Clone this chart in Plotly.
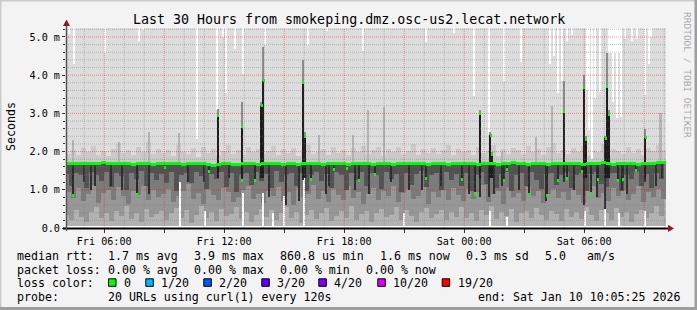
import plotly.graph_objects as go
import pandas as pd

# ---------------- data ----------------
T_START = "2026-01-09 04:05:25"
T_END = "2026-01-10 10:05:25"
STEP = "15min"
MIN_PING_MS = 0.045

median_ms = [
    1.68, 1.69, 1.68, 1.70, 1.69, 1.68, 1.70, 1.71, 1.69, 1.68, 1.70, 1.69, 1.68, 1.67, 1.69, 1.70, 1.68, 1.66, 1.68, 1.69,
    1.70, 1.68, 1.69, 1.67, 1.68, 1.70, 1.69, 1.68, 1.66, 1.64, 1.67, 1.68, 1.69, 1.66, 1.65, 1.68, 1.69, 1.70, 1.67, 1.68,
    1.69, 1.70, 1.68, 1.66, 1.69, 1.68, 1.67, 1.69, 1.70, 1.68, 1.68, 1.67, 1.69, 1.70, 1.68, 1.69, 1.67, 1.68, 1.70, 1.69,
    1.68, 1.66, 1.69, 1.70, 1.68, 1.67, 1.69, 1.68, 1.70, 1.69, 1.68, 1.70, 1.67, 1.68, 1.69, 1.68, 1.66, 1.69, 1.70, 1.68,
    1.69, 1.68, 1.67, 1.70, 1.69, 1.68, 1.66, 1.69, 1.70, 1.71, 1.68, 1.69, 1.67, 1.70, 1.68, 1.69, 1.67, 1.68, 1.70, 1.69,
    1.68, 1.70, 1.69, 1.67, 1.68, 1.69, 1.70, 1.72, 1.68, 1.67, 1.69, 1.70, 1.68, 1.69, 1.66, 1.68, 1.70, 1.69, 1.71, 1.72,
]
dark_floor_ms = [
    1.42, 1.10, 1.45, 1.38, 1.05, 1.47, 1.40, 1.23, 1.46, 1.08, 1.44, 1.36, 1.00, 1.43, 1.29, 1.48, 1.11, 1.45, 1.26, 1.41,
    1.17, 1.46, 0.98, 1.40, 1.44, 1.19, 1.47, 1.35, 1.02, 1.42, 1.28, 1.46, 1.07, 1.43, 0.95, 1.40, 1.45, 1.13, 1.47, 1.24,
    1.41, 1.06, 1.48, 1.21, 1.39, 1.45, 1.10, 1.44, 0.97, 1.40, 1.47, 1.24, 1.42, 1.06, 1.46, 1.38, 0.99, 1.43, 1.25, 1.47,
    1.09, 1.44, 1.40, 1.03, 1.46, 1.27, 1.42, 0.94, 1.45, 1.13, 1.41, 1.48, 1.07, 1.39, 1.44, 1.00, 1.46, 1.26, 1.42, 1.10,
    1.45, 0.97, 1.40, 1.47, 1.14, 1.43, 1.05, 1.41, 1.46, 0.96, 1.38, 1.44, 1.09, 1.47, 1.26, 1.01, 1.42, 1.45, 1.12, 1.40,
    1.46, 1.04, 1.39, 1.44, 0.98, 1.41, 1.47, 1.15, 1.08, 1.43, 1.45, 0.96, 1.40, 1.27, 1.46, 1.10, 1.42, 1.05, 1.44, 1.28,
]
mid_floor_ms = [
    0.95, 0.78, 1.05, 0.70, 0.88, 1.12, 0.65, 0.92, 1.00, 0.74, 1.08, 0.83, 0.62, 0.97, 0.86, 1.10, 0.72, 0.99, 0.80, 0.90,
    1.03, 0.68, 0.85, 0.96, 1.14, 0.76, 0.91, 0.64, 1.02, 0.87, 0.73, 1.06, 0.94, 0.69, 0.82, 1.00, 1.11, 0.77, 0.89, 0.66,
    0.98, 0.84, 1.07, 0.71, 0.93, 0.60, 1.04, 0.81, 0.90, 1.13, 0.75, 0.96, 0.67, 1.01, 0.86, 0.72, 1.09, 0.79, 0.94, 0.63,
    0.88, 1.05, 0.74, 0.97, 0.83, 1.10, 0.69, 0.92, 1.02, 0.77, 0.85, 1.08, 0.62, 0.95, 0.80, 0.99, 0.73, 1.06, 0.87, 0.70,
    1.01, 0.76, 0.93, 1.12, 0.68, 0.89, 0.98, 0.64, 1.04, 0.82, 0.91, 0.71, 1.07, 0.85, 0.97, 0.66, 0.90, 1.03, 0.78, 0.94,
    0.72, 1.00, 0.86, 0.65, 0.96, 1.09, 0.79, 0.92, 0.70, 1.05, 0.84, 0.99, 0.74, 0.88, 1.11, 0.67, 0.93, 0.81, 1.02, 0.76,
]
light_floor_ms = [
    0.35, 0.22, 0.48, 0.30, 0.15, 0.42, 0.55, 0.26, 0.38, 0.19, 0.45, 0.32, 0.58, 0.24, 0.40, 0.17, 0.50, 0.28, 0.36, 0.44,
    0.21, 0.39, 0.52, 0.27, 0.46, 0.14, 0.33, 0.57, 0.25, 0.41, 0.18, 0.49, 0.31, 0.37, 0.54, 0.23, 0.43, 0.16, 0.34, 0.51,
    0.29, 0.47, 0.20, 0.38, 0.56, 0.26, 0.42, 0.13, 0.35, 0.48, 0.24, 0.40, 0.53, 0.19, 0.31, 0.45, 0.27, 0.58, 0.22, 0.36,
    0.44, 0.17, 0.39, 0.50, 0.28, 0.34, 0.55, 0.21, 0.46, 0.32, 0.15, 0.41, 0.52, 0.25, 0.37, 0.48, 0.20, 0.43, 0.30, 0.54,
    0.26, 0.40, 0.18, 0.47, 0.35, 0.57, 0.23, 0.42, 0.31, 0.49, 0.16, 0.38, 0.45, 0.27, 0.53, 0.34, 0.21, 0.44, 0.36, 0.19,
    0.50, 0.29, 0.41, 0.24, 0.55, 0.33, 0.18, 0.46, 0.39, 0.22, 0.52, 0.30, 0.43, 0.17, 0.37, 0.48, 0.26, 0.40, 0.58, 0.32,
]
upper_smoke_ms = [
    1.95, 2.05, 1.90, 2.10, 1.98, 2.15, 1.92, 2.02, 1.88, 2.08, 2.20, 1.96, 2.04, 1.91, 2.12, 1.99, 2.25, 1.93, 2.07, 1.97,
    2.03, 1.89, 2.18, 2.00, 1.94, 2.09, 1.87, 2.13, 1.96, 2.06, 1.92, 2.01, 2.16, 1.95, 2.04, 1.90, 2.11, 1.98, 2.07, 1.93,
    2.02, 2.14, 1.91, 2.06, 1.97, 2.10, 1.89, 2.03, 2.17, 1.94, 2.00, 2.08, 1.92, 2.12, 1.96, 2.05, 1.90, 2.09, 1.99, 2.15,
    1.93, 2.04, 2.11, 1.88, 2.07, 1.98, 2.13, 1.95, 2.02, 2.19, 1.91, 2.06, 1.97, 2.10, 1.94, 2.03, 2.16, 1.90, 2.08, 1.99,
    2.05, 1.92, 2.12, 1.97, 2.01, 2.18, 1.89, 2.07, 1.95, 2.10, 2.03, 1.93, 2.14, 1.98, 2.06, 1.91, 2.11, 2.22, 1.96, 2.04,
    1.94, 2.09, 2.00, 2.15, 1.92, 2.05, 1.98, 2.20, 1.90, 2.08, 2.02, 1.95, 2.13, 1.97, 2.06, 1.91, 2.10, 2.01, 2.17, 2.05,
]

# narrow median dips (median drops for one step)
dip_times = ["2026-01-09 04:26", "2026-01-09 07:38", "2026-01-09 09:02", "2026-01-09 11:14", "2026-01-09 12:53",
             "2026-01-09 13:32", "2026-01-09 16:20", "2026-01-09 17:29", "2026-01-09 18:08", "2026-01-09 18:44",
             "2026-01-09 19:32", "2026-01-09 22:05", "2026-01-09 23:53", "2026-01-10 00:32", "2026-01-10 01:59",
             "2026-01-10 02:08", "2026-01-10 03:14", "2026-01-10 04:08", "2026-01-10 04:41", "2026-01-10 05:08",
             "2026-01-10 05:53", "2026-01-10 06:20", "2026-01-10 06:41", "2026-01-10 07:41", "2026-01-10 07:56",
             "2026-01-10 08:35"]
dip_ms = [0.86, 0.88, 1.58, 1.47, 1.25, 1.25, 1.27, 1.53, 1.56, 1.25, 1.41, 1.30, 1.27, 0.89, 1.25,
          1.53, 0.88, 0.85, 1.25, 1.30, 1.47, 0.90, 1.27, 1.25, 1.28, 1.50]

# narrow median spikes
spike_times = ["2026-01-09 11:42", "2026-01-09 12:53", "2026-01-09 13:52", "2026-01-09 13:58", "2026-01-09 15:57",
               "2026-01-09 16:02", "2026-01-10 00:47", "2026-01-10 01:19", "2026-01-10 01:24", "2026-01-10 04:59",
               "2026-01-10 06:00", "2026-01-10 06:05", "2026-01-10 07:04", "2026-01-10 07:09", "2026-01-10 07:14",
               "2026-01-10 09:04"]
spike_top_ms = [2.95, 2.66, 3.20, 3.86, 3.82, 2.40, 3.00, 2.43, 1.93, 3.06, 3.69, 2.32, 2.35, 3.70, 2.98, 2.36]
spike_halo_ms = [3.12, 3.30, 3.30, 4.75, 4.40, 2.50, 3.10, 2.50, 2.00, 3.86, 4.00, 2.40, 2.40, 4.57, 3.10, 2.60]

# dark smoke streaks (low value of the streak)
streak_times = ["2026-01-09 04:59", "2026-01-09 05:20", "2026-01-09 05:32", "2026-01-09 06:20", "2026-01-09 06:53",
                "2026-01-09 08:14", "2026-01-09 10:11", "2026-01-09 10:59", "2026-01-09 12:14", "2026-01-09 14:14",
                "2026-01-09 15:05", "2026-01-09 15:44", "2026-01-09 15:56", "2026-01-09 17:05", "2026-01-09 17:14",
                "2026-01-09 18:32", "2026-01-09 19:14", "2026-01-09 20:20", "2026-01-09 21:14", "2026-01-09 21:53",
                "2026-01-09 22:50", "2026-01-10 00:14", "2026-01-10 00:47", "2026-01-10 01:14", "2026-01-10 01:29",
                "2026-01-10 01:53", "2026-01-10 02:44", "2026-01-10 04:05", "2026-01-10 04:59", "2026-01-10 05:29",
                "2026-01-10 05:59", "2026-01-10 06:38", "2026-01-10 07:04", "2026-01-10 07:53", "2026-01-10 08:08",
                "2026-01-10 09:02", "2026-01-10 09:35", "2026-01-10 09:53"]
streak_low_ms = [1.2, 1.0, 1.1, 1.1, 1.0, 0.9, 1.2, 1.2, 1.3, 0.8,
                 0.6, 0.7, 1.25, 0.9, 1.1, 1.0, 0.9, 1.2, 1.0, 1.0,
                 1.1, 0.9, 0.82, 0.8, 0.9, 1.1, 1.0, 0.7, 1.2, 1.0,
                 0.6, 0.8, 0.5, 1.0, 0.9, 1.2, 1.1, 1.3]

# steps where the slowest ping stays below the top of the graph
gap_top_times = ["2026-01-09 04:14", "2026-01-09 04:31", "2026-01-09 06:04", "2026-01-09 07:44", "2026-01-09 07:56",
                 "2026-01-09 10:39", "2026-01-09 11:39", "2026-01-09 11:57", "2026-01-09 12:07", "2026-01-09 12:32",
                 "2026-01-09 12:56", "2026-01-09 14:04", "2026-01-09 16:12", "2026-01-09 17:08", "2026-01-09 18:56",
                 "2026-01-09 22:07", "2026-01-09 23:31", "2026-01-10 00:31", "2026-01-10 01:14", "2026-01-10 01:59",
                 "2026-01-10 02:52", "2026-01-10 04:19", "2026-01-10 04:29", "2026-01-10 04:42", "2026-01-10 04:54",
                 "2026-01-10 05:09", "2026-01-10 05:24", "2026-01-10 06:09", "2026-01-10 06:14", "2026-01-10 06:24",
                 "2026-01-10 06:34", "2026-01-10 06:49", "2026-01-10 07:16", "2026-01-10 07:20", "2026-01-10 07:24",
                 "2026-01-10 07:27", "2026-01-10 07:31", "2026-01-10 07:35", "2026-01-10 07:39", "2026-01-10 07:43",
                 "2026-01-10 07:47", "2026-01-10 07:52", "2026-01-10 08:02", "2026-01-10 08:24", "2026-01-10 08:38",
                 "2026-01-10 09:02", "2026-01-10 09:14", "2026-01-10 09:22"]
gap_top_ms = [5.07, 4.30, 4.58, 4.89, 5.17, 2.34, 3.08, 5.00, 3.53, 4.69,
              4.04, 4.80, 4.78, 5.15, 4.63, 4.87, 5.10, 3.46, 2.43, 3.85,
              4.34, 4.30, 4.50, 3.53, 3.86, 4.90, 5.04, 3.60, 2.56, 1.80,
              3.40, 3.56, 4.57, 4.57, 4.57, 3.30, 4.57, 4.57, 2.87, 4.57,
              4.57, 2.90, 4.96, 4.89, 4.95, 3.47, 4.30, 5.00]

# steps where the fastest ping is well above zero
gap_bot_times = ["2026-01-09 09:49", "2026-01-09 11:04", "2026-01-09 12:56", "2026-01-09 13:56", "2026-01-09 14:26",
                 "2026-01-09 14:59", "2026-01-09 16:01", "2026-01-09 21:01", "2026-01-10 01:19", "2026-01-10 02:08",
                 "2026-01-10 06:04", "2026-01-10 07:02", "2026-01-10 07:44", "2026-01-10 09:02"]
gap_bot_ms = [1.21, 0.45, 0.92, 0.91, 0.40, 0.83, 1.75, 0.40, 0.45, 0.30, 0.45, 1.43, 0.40, 0.45]

# light smoke reaching above the median
gray_spike_times = ["2026-01-09 04:26", "2026-01-09 06:44", "2026-01-09 08:14", "2026-01-09 09:44", "2026-01-09 16:44",
                    "2026-01-09 18:26", "2026-01-09 19:11", "2026-01-09 19:59", "2026-01-10 01:53", "2026-01-10 03:35",
                    "2026-01-10 04:23", "2026-01-10 09:47", "2026-01-10 09:52"]
gray_spike_ms = [2.30, 2.25, 2.50, 2.48, 2.43, 2.43, 3.10, 3.18, 2.00, 2.37, 3.20, 3.00, 3.00]

y_tick_vals = [0, 1, 2, 3, 4, 5]
y_tick_text = ["0.0", "1.0 m", "2.0 m", "3.0 m", "4.0 m", "5.0 m"]
x_tick_times = ["2026-01-09 06:00", "2026-01-09 09:00", "2026-01-09 12:00", "2026-01-09 15:00", "2026-01-09 18:00",
                "2026-01-09 21:00", "2026-01-10 00:00", "2026-01-10 03:00", "2026-01-10 06:00", "2026-01-10 09:00"]
x_tick_text = ["Fri 06:00", "", "Fri 12:00", "", "Fri 18:00", "", "Sat 00:00", "", "Sat 06:00", ""]

title_text = "Last 30 Hours from smokeping.dmz.osc-us2.lecat.network"
rtt_row = ["median rtt:", "1.7 ms avg", "3.9 ms max", "860.8 us min", "1.6 ms now", "0.3 ms sd", "5.0", "am/s"]
loss_row = ["packet loss:", "0.00 % avg", "0.00 % max", "0.00 % min", "0.00 % now"]
loss_labels = ["0", "1/20", "2/20", "3/20", "4/20", "10/20", "19/20"]
loss_colors = ["#00ff00", "#00b8ff", "#0059ff", "#5e00ff", "#7e00ff", "#dd00ff", "#ff0000"]
probe_row = ["probe:", "20 URLs using curl(1) every 120s"]
end_text = "end: Sat Jan 10 10:05:25 2026"

# ---------------- layout geometry (pixels) ----------------
W, H = 697, 310
ML, MR, MT, MB = 66, 31, 28, 82
PW, PH = W - ML - MR, H - MT - MB
Y_TOP = 5.235
MONO = "DejaVu Sans Mono"


def xp(px):
    return (px - ML) / PW


def yp(py):
    return (H - MB - py) / PH


MIN = 60 * 1000
bins = pd.date_range(T_START, periods=len(median_ms), freq=STEP)
t0 = pd.Timestamp(T_START)
step = pd.Timedelta(STEP)


def bin_median(t):
    i = int((pd.Timestamp(t) - t0) / step)
    i = max(0, min(len(median_ms) - 1, i))
    return median_ms[i]


fig = go.Figure()


def bars(x, lo, hi, color, width, offset=None):
    lo = list(lo)
    hi = list(hi)
    fig.add_trace(go.Bar(
        x=list(x), base=lo, y=[h - l for h, l in zip(hi, lo)], width=width, offset=offset,
        marker=dict(color=color, line=dict(width=0)), hoverinfo="skip", showlegend=False))


BW = 15 * MIN
HALF = -7.5 * MIN   # phase shift between smoke layers for a finer texture
n = len(median_ms)
bars(bins, [0] * n, [MIN_PING_MS] * n, "#ffffff", BW, 0)
bars(bins, [MIN_PING_MS] * n, upper_smoke_ms, "#cacaca", BW, 0)
bars(bins, [MIN_PING_MS] * n, median_ms, "#b2b2b2", BW, 0)
bars(bins, light_floor_ms, median_ms, "#979797", BW, HALF)
bars(bins, mid_floor_ms, median_ms, "#7b7b7b", BW, 0)
bars(bins, dark_floor_ms, median_ms, "#525252", BW, HALF)

# light smoke above median
bars(gray_spike_times, [bin_median(t) for t in gray_spike_times], gray_spike_ms, "#b4b4b4", 4 * MIN)
# white where the slowest ping is below the top
bars(gap_top_times, gap_top_ms, [Y_TOP + 1] * len(gap_top_ms), "#ffffff", 4 * MIN)
# white where the fastest ping is high
bars(gap_bot_times, [0] * len(gap_bot_ms), gap_bot_ms, "#ffffff", 4 * MIN)
# dark streaks
bars(streak_times, streak_low_ms, [bin_median(t) for t in streak_times], "#2e2e2e", 4.5 * MIN)
# dip columns
bars(dip_times, dip_ms, [bin_median(t) for t in dip_times], "#2a2a2a", 5 * MIN)
# spikes: halo + black column
bars(spike_times, spike_top_ms, spike_halo_ms, "#8c8c8c", 5 * MIN)
bars(spike_times, [1.3] * len(spike_top_ms), spike_top_ms, "#1c1c1c", 5 * MIN)

# median band (green = 0 loss)
BAND = 0.08
bars(bins, [m - BAND / 2 for m in median_ms], [m + BAND / 2 for m in median_ms], loss_colors[0], BW, 0)
bars(dip_times, [m - BAND / 2 for m in dip_ms], [m + BAND / 2 for m in dip_ms], loss_colors[0], 6 * MIN)
bars(spike_times, [m - BAND / 2 for m in spike_top_ms], [m + BAND / 2 for m in spike_top_ms], loss_colors[0], 6 * MIN)

shapes = []
# grid on top
GRID_DASH = "1px,1px"
for t in pd.date_range("2026-01-09 05:00", "2026-01-10 10:00", freq="1h"):
    major = t.hour % 3 == 0
    shapes.append(dict(type="line", xref="x", yref="paper", x0=t, x1=t, y0=0, y1=1, layer="above",
                       line=dict(color="rgba(255,0,0,0.42)" if major else "rgba(120,120,120,0.42)",
                                 width=1, dash=GRID_DASH)))
k = 1
while k * 0.2 < Y_TOP:
    v = round(k * 0.2, 2)
    major = abs(v - round(v)) < 1e-6
    shapes.append(dict(type="line", xref="paper", yref="y", x0=0, x1=1, y0=v, y1=v, layer="above",
                       line=dict(color="rgba(255,0,0,0.42)" if major else "rgba(120,120,120,0.42)",
                                 width=1, dash=GRID_DASH)))
    k += 1

AX = "#333333"
ARROW = "#8b1a1a"
# axes lines with arrows
shapes.append(dict(type="line", xref="paper", yref="paper", x0=xp(63), x1=xp(669), y0=yp(228.4), y1=yp(228.4),
                   line=dict(color="#000000", width=2), layer="above"))
shapes.append(dict(type="line", xref="paper", yref="paper", x0=xp(66.5), x1=xp(66.5), y0=yp(231), y1=yp(24),
                   line=dict(color="#555555", width=1.5), layer="above"))
shapes.append(dict(type="path", xref="paper", yref="paper",
                   path=f"M {xp(668)} {yp(224.8)} L {xp(674)} {yp(228.4)} L {xp(668)} {yp(232)} Z",
                   fillcolor=ARROW, line=dict(width=0), layer="above"))
shapes.append(dict(type="path", xref="paper", yref="paper",
                   path=f"M {xp(63)} {yp(26)} L {xp(66.5)} {yp(19.5)} L {xp(70)} {yp(26)} Z",
                   fillcolor=ARROW, line=dict(width=0), layer="above"))

# frame
shapes.append(dict(type="rect", xref="paper", yref="paper", x0=xp(0), x1=xp(W), y0=yp(0), y1=yp(1.5),
                   fillcolor="#cbcbcb", line=dict(width=0)))
shapes.append(dict(type="rect", xref="paper", yref="paper", x0=xp(0), x1=xp(1.5), y0=yp(0), y1=yp(H),
                   fillcolor="#cbcbcb", line=dict(width=0)))
shapes.append(dict(type="rect", xref="paper", yref="paper", x0=xp(0), x1=xp(W), y0=yp(H - 3), y1=yp(H),
                   fillcolor="#9e9e9e", line=dict(width=0)))
shapes.append(dict(type="rect", xref="paper", yref="paper", x0=xp(W - 2.5), x1=xp(W), y0=yp(0), y1=yp(H),
                   fillcolor="#9e9e9e", line=dict(width=0)))

annotations = []


def text(s, x, y, size=11.6, anchor="left", color="#000000", angle=0):
    annotations.append(dict(text=s, x=xp(x), y=yp(y), xref="paper", yref="paper", showarrow=False,
                            xanchor=anchor, yanchor="middle", textangle=angle,
                            font=dict(family=MONO, size=size, color=color), borderpad=0))


text(title_text, 348.5, 20, size=13.3, anchor="center")
text("Seconds", 11, 127, size=11.6, anchor="center", angle=-90)
text("RRDTOOL / TOBI OETIKER", 688, 75, size=9.5, anchor="center", color="#a8a8a8", angle=90)

ROW_Y = [255.6, 269.5, 283.4, 297.3]
rtt_x = [16, 107, 193, 279, 379, 465, 544, 586]
for s, x in zip(rtt_row, rtt_x):
    text(s, x, ROW_Y[0])
loss_x = [16, 107, 193, 279, 365]
for s, x in zip(loss_row, loss_x):
    text(s, x, ROW_Y[1])
text("loss color:", 16, ROW_Y[2])
lab_x = [123, 160.3, 218.3, 276.3, 333.3, 392.3, 456.7]
for lab, col, x in zip(loss_labels, loss_colors, lab_x):
    text(lab, x, ROW_Y[2])
    shapes.append(dict(type="rect", xref="paper", yref="paper", x0=xp(x - 14.5), x1=xp(x - 7),
                       y0=yp(286.3), y1=yp(278.8), fillcolor=col, line=dict(color="#000000", width=1)))
text(probe_row[0], 16, ROW_Y[3])
text(probe_row[1], 107, ROW_Y[3])
text(end_text, 681, ROW_Y[3], anchor="right")

fig.update_layout(
    width=W, height=H, margin=dict(l=ML, r=MR, t=MT, b=MB, pad=0),
    paper_bgcolor="#f3f3f3", plot_bgcolor="#dddddd",
    barmode="overlay", bargap=0, showlegend=False,
    font=dict(family=MONO, size=10.15, color="#000000"),
    shapes=shapes, annotations=annotations,
    xaxis=dict(type="date", range=[T_START, T_END], tickmode="array", tickvals=x_tick_times,
               ticktext=x_tick_text, ticks="outside", ticklen=4, tickcolor=AX, tickwidth=1,
               showgrid=False, zeroline=False, showline=False,
               tickfont=dict(family=MONO, size=10.15, color="#000000")),
    yaxis=dict(range=[0, Y_TOP], tickmode="array", tickvals=y_tick_vals, ticktext=y_tick_text,
               ticks="outside", ticklen=3, tickcolor=AX, tickwidth=1,
               minor=dict(dtick=0.2, tick0=0, ticks="outside", ticklen=2, tickcolor=AX, showgrid=False),
               showgrid=False, zeroline=False, showline=False,
               tickfont=dict(family=MONO, size=10.15, color="#000000")),
)

fig.write_html("out.html")
